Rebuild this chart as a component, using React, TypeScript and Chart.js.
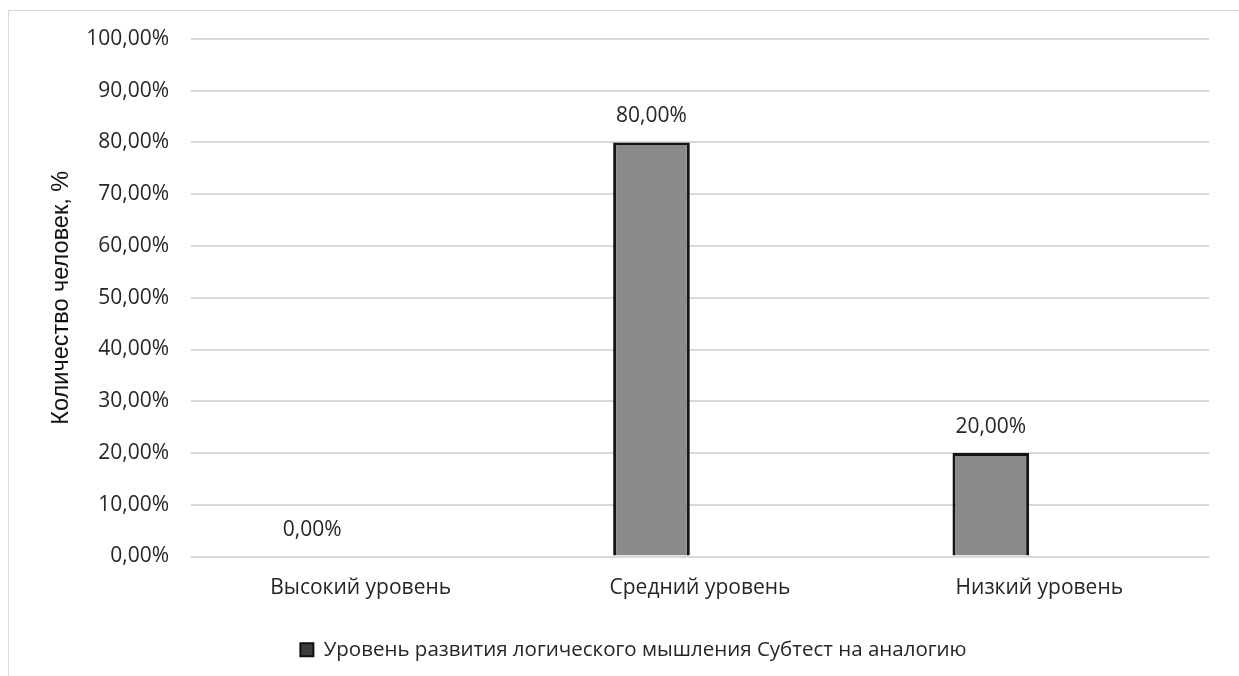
import React, { useEffect, useRef } from "react";
import { Chart, registerables } from "chart.js";

Chart.register(...registerables);

const categories = ["Высокий уровень", "Средний уровень", "Низкий уровень"];
const seriesName = "Уровень развития логического мышления Субтест на аналогию";
const seriesValues = [0, 80, 20];
const yTicks = [0, 10, 20, 30, 40, 50, 60, 70, 80, 90, 100];

const fmt = (v: number) => v.toFixed(2).replace(".", ",") + "%";
const FONT = "'Open Sans', sans-serif";
const TEXT = "#262626";

const labelPlugin = {
  id: "barLabels",
  afterDatasetsDraw(chart: any) {
    const ctx = chart.ctx;
    const meta = chart.getDatasetMeta(0);
    ctx.save();
    ctx.font = `21px ${FONT}`;
    ctx.fillStyle = TEXT;
    ctx.textAlign = "center";
    ctx.textBaseline = "middle";
    meta.data.forEach((el: any, i: number) => {
      const v = chart.data.datasets[0].data[i];
      ctx.fillText(fmt(v), el.x, el.y - 26);
    });
    ctx.restore();
  },
};

export default function App() {
  const ref = useRef<HTMLCanvasElement>(null);
  useEffect(() => {
    if (!ref.current) return;
    const chart = new Chart(ref.current, {
      type: "bar",
      data: {
        labels: categories,
        datasets: [
          {
            label: seriesName,
            data: seriesValues,
            backgroundColor: "#8a8a8a",
            borderColor: "#141414",
            borderWidth: 3,
            categoryPercentage: 0.572,
            barPercentage: 0.79,
          },
          {
            label: "",
            data: categories.map(() => null),
            backgroundColor: "#8a8a8a",
            categoryPercentage: 0.572,
            barPercentage: 0.79,
          },
        ],
      },
      options: {
        animation: false,
        responsive: false,
        maintainAspectRatio: false,
        layout: { padding: { left: 0, right: 0, top: 28, bottom: 6 } },
        plugins: {
          tooltip: { enabled: false },
          legend: {
            position: "bottom",
            labels: {
              filter: (item: any) => item.datasetIndex === 0,
              generateLabels: (chart: any) =>
                Chart.defaults.plugins.legend.labels.generateLabels(chart).map((l: any) => ({
                  ...l,
                  fillStyle: "#3c3c3c",
                  strokeStyle: "#111111",
                  lineWidth: 2,
                })),
              boxWidth: 13,
              boxHeight: 13,
              padding: 10,
              color: TEXT,
              font: { family: FONT, size: 20.5 },
            },
          },
        },
        scales: {
          x: {
            grid: { display: false },
            border: { display: false },
            ticks: { color: TEXT, font: { family: FONT, size: 21 }, padding: 11, maxRotation: 0 },
            afterFit: (s: any) => {
              s.height = 73;
            },
          },
          y: {
            min: 0,
            max: 100,
            afterBuildTicks: (s: any) => {
              s.ticks = yTicks.map((v) => ({ value: v }));
            },
            grid: { color: "#d9d9d9", lineWidth: 2, drawTicks: false },
            border: { display: false },
            ticks: {
              color: TEXT,
              font: { family: FONT, size: 21 },
              padding: 22,
              callback: (v: any) => fmt(Number(v)),
            },
            title: {
              display: true,
              text: "Количество человек, %",
              color: "#111111",
              font: { family: "'Liberation Sans', Arial, sans-serif", size: 23.5 },
              padding: { top: 38, bottom: 0 },
            },
            afterFit: (s: any) => {
              s.width = 182;
              s.paddingTop = 0;
              s.paddingBottom = 0;
            },
          },
          yRight: {
            position: "right",
            display: true,
            min: 0,
            max: 100,
            grid: { display: false, drawTicks: false },
            border: { display: false },
            ticks: { display: false },
            afterFit: (s: any) => {
              s.width = 49;
              s.paddingTop = 0;
              s.paddingBottom = 0;
            },
          },
        },
      },
      plugins: [labelPlugin],
    });
    return () => chart.destroy();
  }, []);

  return (
    <div
      style={{
        position: "absolute",
        left: 8,
        top: 10,
        width: 1231,
        height: 666,
        overflow: "hidden",
        borderLeft: "1px solid #d9d9d9",
        borderTop: "1px solid #d9d9d9",
        background: "#fff",
      }}
    >
      <canvas ref={ref} width={1249} height={665} style={{ display: "block", width: 1249, height: 665 }} />
    </div>
  );
}
